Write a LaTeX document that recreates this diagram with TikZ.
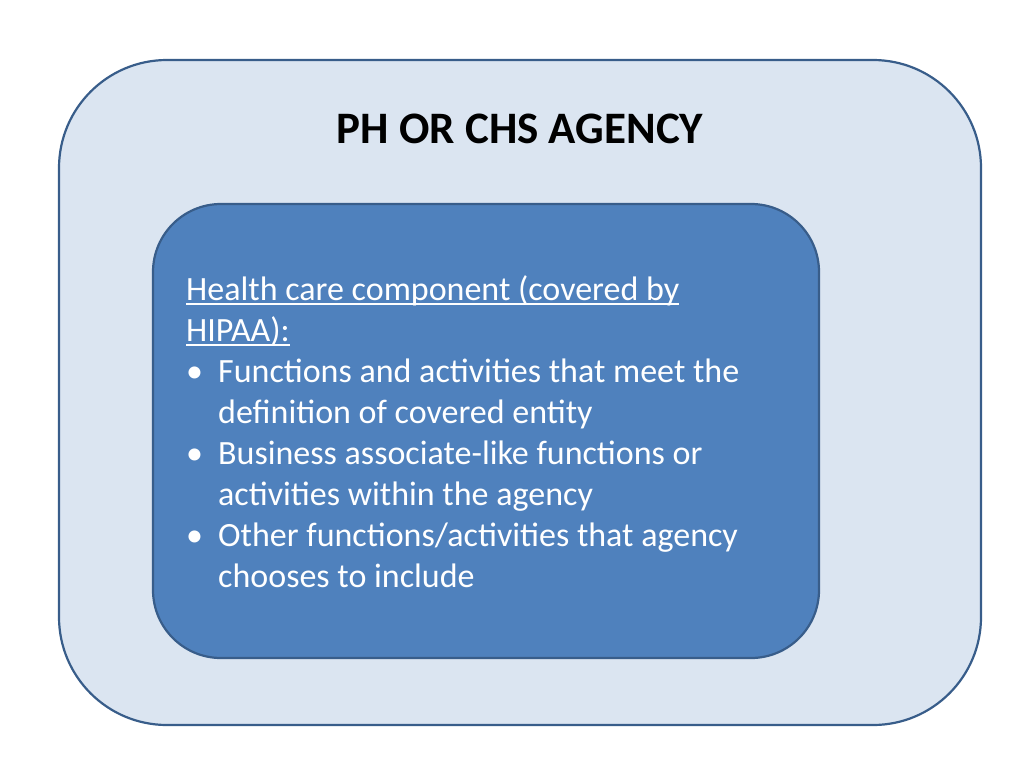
\documentclass[tikz,border=0pt]{standalone}
\usepackage{fontspec}
\setmainfont{Carlito}
\definecolor{outerfill}{HTML}{DBE5F1}
\definecolor{boxline}{HTML}{385D8A}
\definecolor{innerfill}{HTML}{4F81BD}
\tikzset{
  outerbox/.style={draw=boxline, fill=outerfill, line width=2.2pt, rounded corners=108pt},
  innerbox/.style={draw=boxline, fill=innerfill, line width=2.2pt, rounded corners=68pt},
  titletext/.style={font=\fontsize{45}{54}\selectfont\bfseries, text=black, anchor=base, inner sep=0pt},
  bodytext/.style={font=\fontsize{34}{41}\selectfont, text=white, anchor=north west, inner sep=0pt, align=left}
}
\newcommand{\bul}[1]{\makebox[32pt][l]{\textbullet}#1}
\newcommand{\ind}[1]{\hspace*{32pt}#1}
\newcommand{\myul}[1]{\setbox0\hbox{#1}\rlap{\rule[-4.5pt]{\wd0}{2pt}}\box0}
\begin{document}
\begin{tikzpicture}[x=1pt,y=-1pt]
\useasboundingbox (0,0) rectangle (1024,768);
\path[outerbox] (59,60) rectangle (981,725);
\node[titletext] (title) at (520,143) {PH OR CHS AGENCY};
\path[innerbox] (153,204) rectangle (819,658);
\node[bodytext] (body) at (186,275) {\myul{Health care component (covered by}\\
\myul{HIPAA):}\\
\bul{Functions and activities that meet the}\\
\ind{definition of covered entity}\\
\bul{Business associate-like functions or}\\
\ind{activities within the agency}\\
\bul{Other functions/activities that agency}\\
\ind{chooses to include}};
\end{tikzpicture}
\end{document}
